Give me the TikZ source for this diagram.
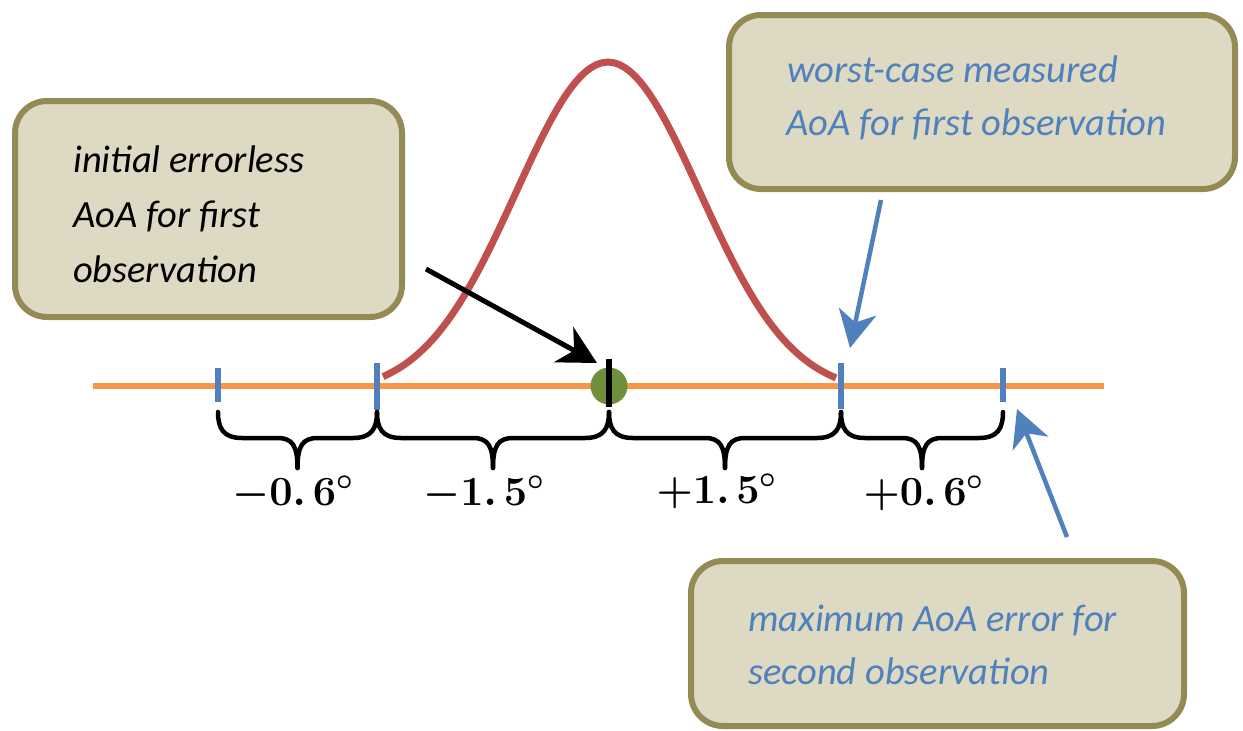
\documentclass[tikz,border=0pt]{standalone}
\usepackage[no-math]{fontspec}
\usepackage{bm}
\usepackage{graphicx}
\newfontfamily\boxfont{Carlito}
\usetikzlibrary{arrows.meta}
\definecolor{boxfill}{HTML}{DDD9C3}
\definecolor{boxedge}{HTML}{948A54}
\definecolor{tblue}{HTML}{4F81BD}
\definecolor{lorange}{HTML}{F79646}
\definecolor{cred}{HTML}{C0504D}
\definecolor{dgreen}{HTML}{6F8F3A}
\newcommand\boxtextfont{\boxfont\itshape\fontsize{38.5}{54}\selectfont}
\newcommand\labelfont{\fontsize{20}{24}\selectfont}
\newcommand\biglabel[1]{\scalebox{2}{$\bm{#1}$}}
\tikzset{
  boxshape/.style={draw=boxedge, fill=boxfill, line width=6pt, rounded corners=32pt, rectangle, inner sep=0pt},
  boxtxt/.style={font=\boxtextfont, inner sep=0pt, anchor=base west},
  bluetxt/.style={boxtxt, text=tblue},
  tickmark/.style={rectangle, fill=tblue, minimum width=6pt, inner sep=0pt},
  bracestyle/.style={line width=4.5pt, black, line cap=round, line join=round},
  deglabel/.style={font=\labelfont, inner sep=0pt, anchor=base},
  blackarrow/.style={line width=5pt, black, -{Stealth[length=38pt, width=40pt, inset=12pt]}},
  bluearrow/.style={line width=4.5pt, tblue, -{Stealth[length=37pt, width=38pt, inset=11pt]}}
}
% curly brace hanging below (#1,#2), width #3, in picture units
\newcommand\curlybrace[3]{%
  \draw[bracestyle] (#1,#2) .. controls (#1,#2+16) and (#1+5,#2+26) .. (#1+24,#2+26) -- ({#1+#3/2-20},#2+26) .. controls ({#1+#3/2-5},#2+26) and ({#1+#3/2},#2+34) .. ({#1+#3/2},#2+56);
  \draw[bracestyle] ({#1+#3},#2) .. controls ({#1+#3},#2+16) and ({#1+#3-5},#2+26) .. ({#1+#3-24},#2+26) -- ({#1+#3/2+20},#2+26) .. controls ({#1+#3/2+5},#2+26) and ({#1+#3/2},#2+34) .. ({#1+#3/2},#2+56);
}
\begin{document}
\begin{tikzpicture}[x=1pt,y=-1pt]
\useasboundingbox (0,0) rectangle (1243,731);

% axis
\coordinate (axl) at (93,386);
\coordinate (axr) at (1104,386);
\draw[lorange, line width=6.5pt] (axl) -- (axr);

% gaussian
\draw[cred, line width=7pt] plot[domain=383:836, samples=90, smooth] (\x, {377 - 331*(exp(-((\x-608)/92)^2/2) - 0.049)});

% ticks
\node[tickmark, minimum height=34pt] (k1) at (218,385) {};
\node[tickmark, minimum height=47pt] (k2) at (377,386.5) {};
\node[tickmark, minimum height=46pt] (k3) at (841,386) {};
\node[tickmark, minimum height=34pt] (k4) at (1003,385) {};

% centre dot
\node[circle, fill=dgreen, minimum size=37pt, inner sep=0pt] (dot) at (609,386) {};
\node[rectangle, fill=black, minimum width=6.5pt, minimum height=48pt, inner sep=0pt] (k0) at (609,383) {};

% braces
\curlybrace{218}{412}{159}
\curlybrace{377}{412}{232}
\curlybrace{609}{412}{232}
\curlybrace{841}{412}{162}

% labels
\node[deglabel] (l1) at (293,505) {\biglabel{-0.\,6^{\circ}}};
\node[deglabel] (l2) at (484,505) {\biglabel{-1.\,5^{\circ}}};
\node[deglabel] (l3) at (717,503) {\biglabel{+1.\,5^{\circ}}};
\node[deglabel] (l4) at (924,505) {\biglabel{+0.\,6^{\circ}}};

% arrows
\coordinate (a1s) at (426,269);
\coordinate (a1e) at (597,363);
\draw[blackarrow] (a1s) -- (a1e);
\coordinate (a2s) at (881,200);
\coordinate (a2e) at (850,348);
\draw[bluearrow] (a2s) -- (a2e);
\coordinate (a3s) at (1067,537);
\coordinate (a3e) at (1017,409);
\draw[bluearrow] (a3s) -- (a3e);

% boxes
\node[boxshape, minimum width=387pt, minimum height=216pt] (b1) at (208.5,209) {};
\node[boxtxt] (b1a) at (73,172) {initial errorless};
\node[boxtxt] (b1b) at (73,227) {AoA for first};
\node[boxtxt] (b1c) at (73,282) {observation};

\node[boxshape, minimum width=506pt, minimum height=174pt] (b2) at (982,102) {};
\node[bluetxt] (b2a) at (787,82) {worst-case measured};
\node[bluetxt] (b2b) at (786,135) {AoA for first observation};

\node[boxshape, minimum width=493pt, minimum height=165pt] (b3) at (937.5,643.5) {};
\node[bluetxt] (b3a) at (748,631) {maximum AoA error for};
\node[bluetxt] (b3b) at (748,684) {second observation};
\end{tikzpicture}
\end{document}
